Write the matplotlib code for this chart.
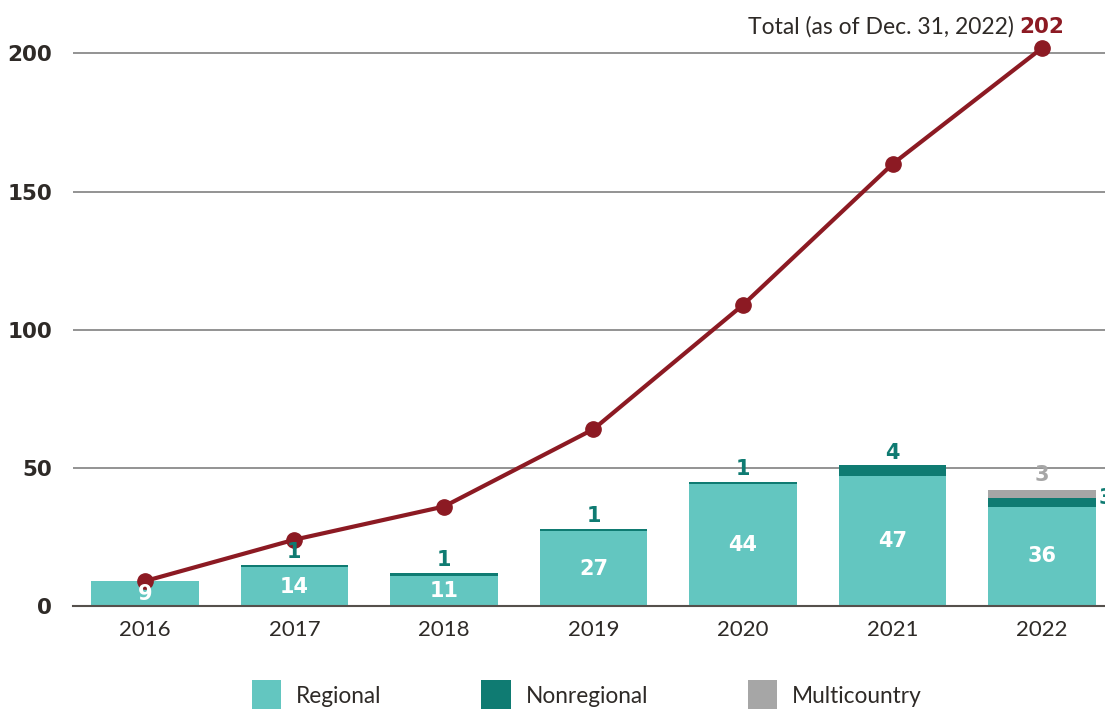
import matplotlib.pyplot as plt
import numpy as np

years = ['2016', '2017', '2018', '2019', '2020', '2021', '2022']
regional = [9, 14, 11, 27, 44, 47, 36]
nonregional = [0, 1, 1, 1, 1, 4, 3]
multicountry = [0, 0, 0, 0, 0, 0, 3]
total = [9, 24, 36, 64, 109, 160, 202]

c_reg = '#63c6c0'
c_non = '#0f7b72'
c_multi = '#a6a6a6'
c_line = '#8c1a23'
c_text = '#2e2a27'

plt.rcParams['font.family'] = ['Lato', 'DejaVu Sans']

fig = plt.figure(figsize=(11.05, 7.09), dpi=100)
ax = fig.add_axes([73 / 1105, 103 / 709, 1 - 73 / 1105, (606 - 12) / 709])

x = np.arange(len(years))
w = 0.72
reg = np.array(regional)
non = np.array(nonregional)
mul = np.array(multicountry)

ax.bar(x, reg, w, color=c_reg, label='Regional', zorder=2)
ax.bar(x, non, w, bottom=reg, color=c_non, label='Nonregional', zorder=2)
ax.bar(x, mul, w, bottom=reg + non, color=c_multi, label='Multicountry', zorder=2)

ax.plot(x, total, color=c_line, lw=3, marker='o', ms=11, zorder=4, clip_on=False)

num_font = dict(fontfamily='DejaVu Sans', fontweight='bold', fontsize=15)
for i in range(len(years)):
    ax.text(x[i], reg[i] / 2, str(reg[i]), color='white', ha='center', va='center',
            zorder=5, **num_font)
    if non[i] > 0:
        if mul[i] > 0:
            ax.text(x[i] + w / 2 + 0.02, reg[i] + non[i] / 2 + 1.5, str(non[i]), color=c_non,
                    ha='left', va='center', zorder=5, clip_on=False, **num_font)
        else:
            ax.text(x[i], reg[i] + non[i] + 4.5, str(non[i]), color=c_non,
                    ha='center', va='center', zorder=5, **num_font)
    if mul[i] > 0:
        ax.text(x[i], reg[i] + non[i] + mul[i] + 5.5, str(mul[i]), color=c_multi,
                ha='center', va='center', zorder=5, **num_font)

ax.text(5.85, 209.5, '202', color=c_line, ha='left', va='center',
        fontfamily='DejaVu Sans', fontweight='bold', fontsize=15.5)
ax.text(5.81, 209.5, 'Total (as of Dec. 31, 2022)', color=c_text, ha='right', va='center',
        fontsize=16.5)

ax.set_xlim(-0.48, 6.42)
ax.set_ylim(0, 215)
ax.set_yticks([0, 50, 100, 150, 200])
ax.set_xticks(x)
ax.set_xticklabels(years, fontsize=16, color=c_text)
for lab in ax.get_yticklabels():
    lab.set_fontfamily('DejaVu Sans')
    lab.set_fontweight('bold')
    lab.set_fontsize(15.5)
    lab.set_color(c_text)
ax.tick_params(axis='y', length=0, pad=15)
ax.tick_params(axis='x', length=0, pad=10)
ax.yaxis.grid(True, color='#8a8a8a', lw=1.3)
ax.set_axisbelow(True)
for s in ['top', 'right', 'left']:
    ax.spines[s].set_visible(False)
ax.spines['bottom'].set_color('#55504c')
ax.spines['bottom'].set_linewidth(1.5)

fig.legend(loc='upper left', bbox_to_anchor=(252 / 1105, (709 - 680) / 709), ncol=3,
           frameon=False, fontsize=16.3, handlelength=1.3, handleheight=1.75,
           handletextpad=0.65, columnspacing=4.4, borderpad=0, borderaxespad=0,
           labelcolor=c_text)

fig.savefig('out.png', dpi=100)
